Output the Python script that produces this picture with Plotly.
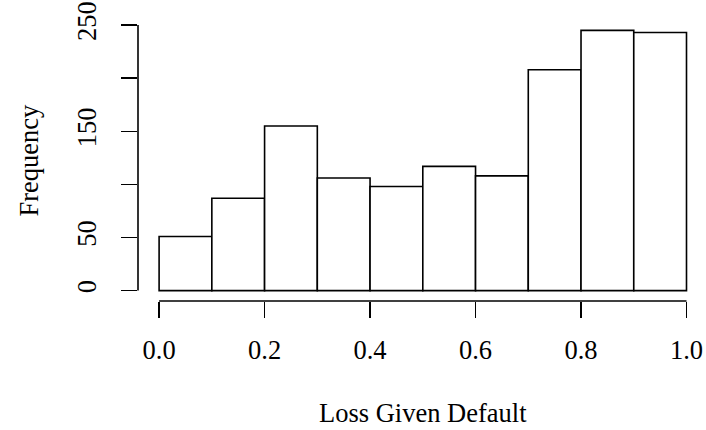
import plotly.graph_objects as go

# Histogram bins (left edges) and counts
bin_starts = [0.0, 0.1, 0.2, 0.3, 0.4, 0.5, 0.6, 0.7, 0.8, 0.9]
bin_width = 0.1
counts = [51, 87, 155, 106, 98, 117, 108, 208, 245, 243]

x_tick_vals = [0.0, 0.2, 0.4, 0.6, 0.8, 1.0]
x_tick_text = ["0.0", "0.2", "0.4", "0.6", "0.8", "1.0"]
y_tick_vals = [0, 50, 100, 150, 200, 250]
y_tick_text = ["0", "50", "", "150", "", "250"]

FONT = "Liberation Serif, Times New Roman, serif"
FS = 26.5
LW = 1.6

fig = go.Figure()
fig.add_trace(go.Bar(
    x=bin_starts, y=counts, width=bin_width, offset=0,
    marker=dict(color="white", line=dict(color="black", width=LW)),
    hoverinfo="skip", showlegend=False,
))

fig.update_layout(
    width=706, height=430,
    margin=dict(l=138, r=0, t=20, b=129, pad=0),
    paper_bgcolor="white", plot_bgcolor="white",
    font=dict(family=FONT, size=FS, color="black"),
    bargap=0,
    xaxis=dict(
        range=[-0.04, -0.04 + 568 / 527.4],
        tickvals=x_tick_vals, ticktext=x_tick_text,
        ticks="outside", ticklen=16, tickwidth=LW, tickcolor="black",
        showgrid=False, zeroline=False, showline=False,
        tickfont=dict(family=FONT, size=FS, color="black"),
        ticklabelstandoff=9, ticklabeloverflow="allow",
    ),
    yaxis=dict(
        range=[-9.8, 254.8],
        tickvals=y_tick_vals, ticktext=y_tick_text,
        ticks="outside", ticklen=16, tickwidth=LW, tickcolor="black",
        showgrid=False, zeroline=False, showline=False,
        tickangle=-90,
        tickfont=dict(family=FONT, size=FS, color="black"),
        ticklabelstandoff=14, ticklabeloverflow="allow",
    ),
    shapes=[
        dict(type="line", xref="x", yref="paper", x0=x_tick_vals[0], x1=x_tick_vals[-1],
             y0=0, y1=0, line=dict(color="black", width=LW)),
        dict(type="line", xref="paper", yref="y", x0=0, x1=0,
             y0=y_tick_vals[0], y1=y_tick_vals[-1], line=dict(color="black", width=LW)),
    ],
    annotations=[
        dict(text="Loss Given Default", xref="paper", yref="paper", x=0.5, y=0,
             xanchor="center", yanchor="middle", xshift=1, yshift=-112,
             showarrow=False, font=dict(family=FONT, size=FS, color="black")),
        dict(text="Frequency", xref="paper", yref="paper", x=0, y=0.5,
             xanchor="center", yanchor="middle", xshift=-110, textangle=-90,
             showarrow=False, font=dict(family=FONT, size=FS, color="black")),
    ],
)

fig.write_html(
    "out.html",
    config={"displayModeBar": False, "staticPlot": True},
    post_script="document.body.style.margin='0';document.body.style.overflow='hidden';",
)
